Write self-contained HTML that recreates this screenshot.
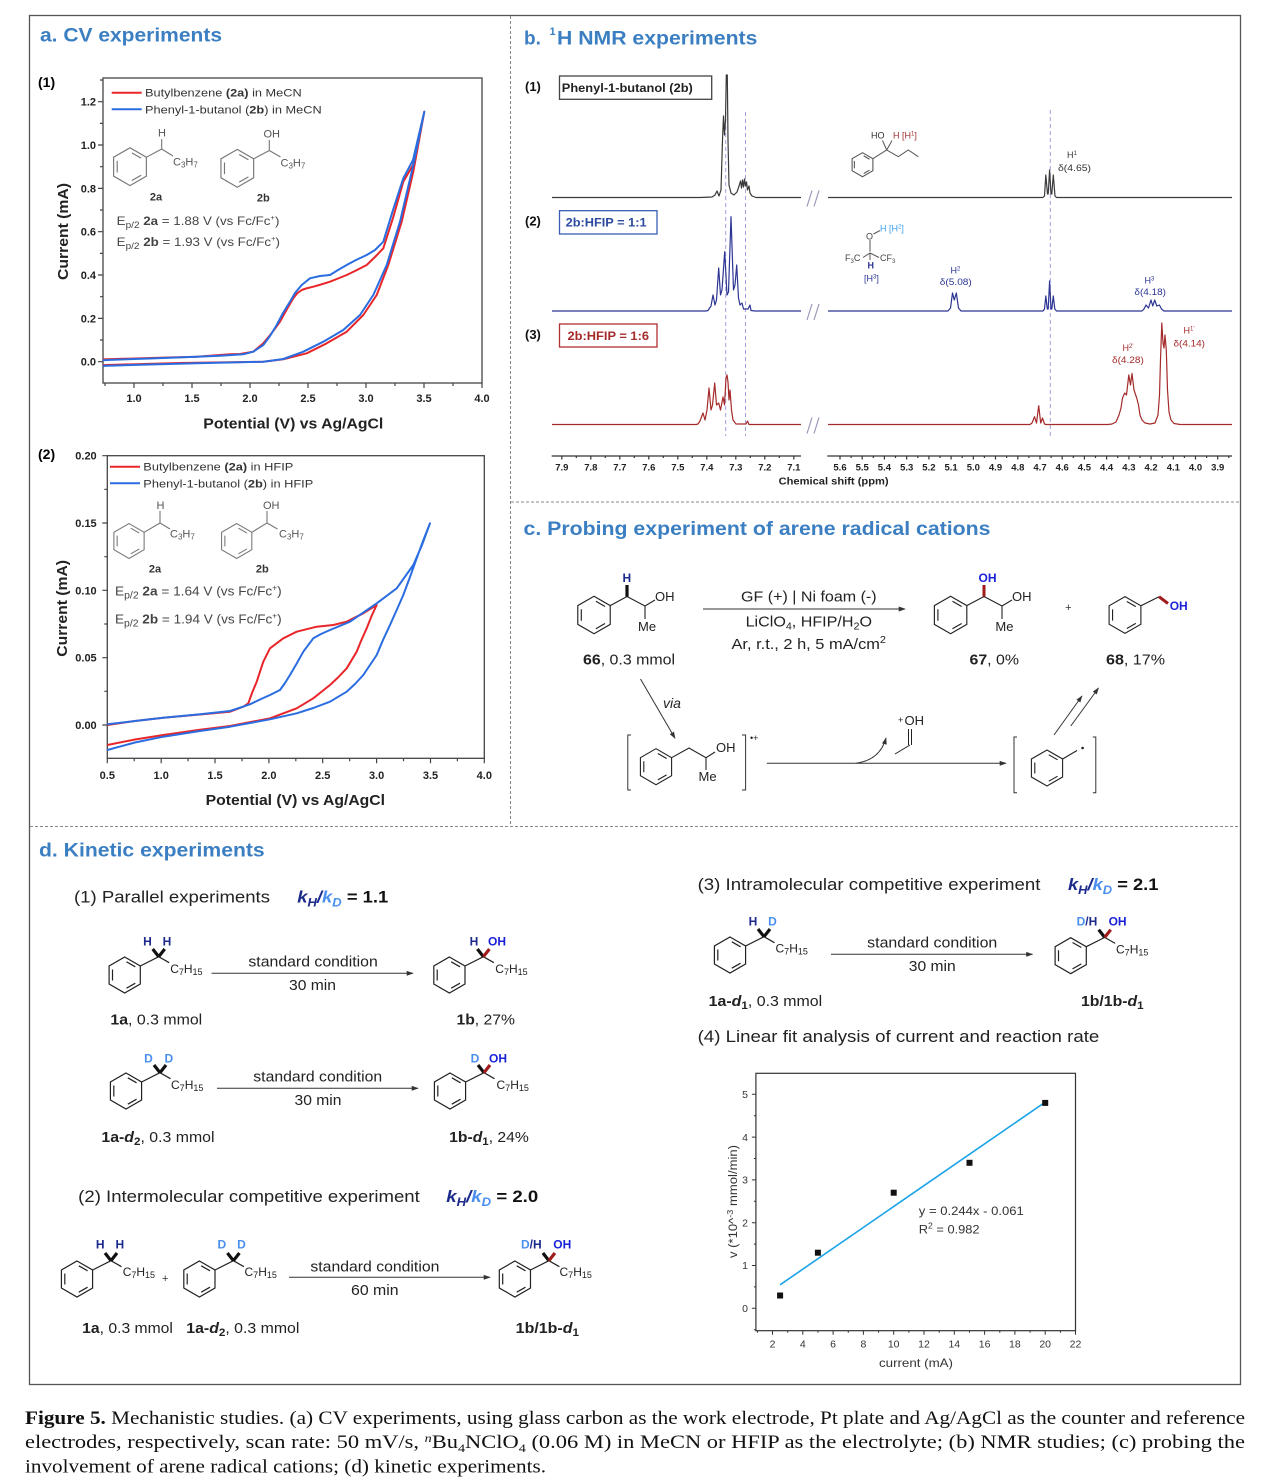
<!DOCTYPE html>
<html><head><meta charset="utf-8"><style>html,body{margin:0;padding:0;background:#fff}svg{display:block}</style></head>
<body>
<svg width="1262" height="1482" viewBox="0 0 1262 1482" xmlns="http://www.w3.org/2000/svg" font-family="'Liberation Sans', Arial, sans-serif">
<defs>
<marker id="ah" viewBox="0 0 10 10" refX="9" refY="5" markerWidth="7" markerHeight="7" orient="auto"><path d="M0,1.5 L10,5 L0,8.5 Z" fill="#333"/></marker>
<g id="bz" fill="none"><path d="M0,-18 L15.59,-9 L15.59,9 L0,18 L-15.59,9 L-15.59,-9 Z M-12.2,-5.5 L-12.2,5.5 M1.8,-13.2 L10.6,-8.2 M10.6,8.2 L1.8,13.2"/></g>
<g id="alk" fill="none"><use href="#bz"/><path d="M15.59,-9 L34,-18.3 L44.5,-12.3"/></g>
</defs>

<!-- Frame -->
<rect x="29.5" y="15.5" width="1211" height="1369" fill="none" stroke="#555" stroke-width="1.3"/>
<g stroke="#888" stroke-width="1" stroke-dasharray="3,2">
<line x1="510.5" y1="16" x2="510.5" y2="826"/>
<line x1="511" y1="502" x2="1240" y2="502"/>
<line x1="30" y1="826.5" x2="1240" y2="826.5"/>
</g>

<!-- ===== Panel a ===== -->
<text x="40" y="41.7" font-size="19" font-weight="bold" fill="#3b7fc2" textLength="182" lengthAdjust="spacingAndGlyphs">a. CV experiments</text>
<text x="38" y="87" font-size="14" font-weight="bold">(1)</text>

<!-- CV 1 -->
<rect x="103" y="78" width="379" height="305" fill="none" stroke="#444" stroke-width="1.3"/>
<path d="M134,383v5M192,383v5M250,383v5M308,383v5M366,383v5M424,383v5M482,383v5 M105,383v3M163,383v3M221,383v3M279,383v3M337,383v3M395,383v3M453,383v3 M103,361.7h-5M103,318.4h-5M103,275h-5M103,231.7h-5M103,188.4h-5M103,145h-5M103,101.7h-5 M103,340h-3M103,296.7h-3M103,253.4h-3M103,210h-3M103,166.7h-3M103,123.4h-3M103,80h-3" stroke="#444" stroke-width="1.2" fill="none"/>
<g font-size="11" font-weight="bold" fill="#222" text-anchor="middle">
<text x="134" y="402">1.0</text><text x="192" y="402">1.5</text><text x="250" y="402">2.0</text><text x="308" y="402">2.5</text><text x="366" y="402">3.0</text><text x="424" y="402">3.5</text><text x="482" y="402">4.0</text>
</g>
<g font-size="11" font-weight="bold" fill="#222" text-anchor="end">
<text x="96" y="365.7">0.0</text><text x="96" y="322.4">0.2</text><text x="96" y="279">0.4</text><text x="96" y="235.7">0.6</text><text x="96" y="192.4">0.8</text><text x="96" y="149">1.0</text><text x="96" y="105.7">1.2</text>
</g>
<text x="203.3" y="428.3" font-size="15" font-weight="bold" fill="#222" textLength="180" lengthAdjust="spacingAndGlyphs">Potential (V) vs Ag/AgCl</text>
<text transform="translate(68,280) rotate(-90)" font-size="15" font-weight="bold" fill="#222" textLength="97" lengthAdjust="spacingAndGlyphs">Current (mA)</text>
<line x1="111.7" y1="92.7" x2="141.7" y2="92.7" stroke="#e8262a" stroke-width="2"/>
<line x1="111.7" y1="109.3" x2="141.7" y2="109.3" stroke="#2a6de0" stroke-width="2"/>
<text x="145" y="96.7" font-size="11" fill="#333" textLength="156.7" lengthAdjust="spacingAndGlyphs">Butylbenzene <tspan font-weight="bold">(2a)</tspan> in MeCN</text>
<text x="145" y="113.3" font-size="11" fill="#333" textLength="176.7" lengthAdjust="spacingAndGlyphs">Phenyl-1-butanol (<tspan font-weight="bold">2b</tspan>) in MeCN</text>
<!-- structures 1 -->
<use href="#bz" transform="translate(130,166.7) scale(1.05)" stroke="#777" stroke-width="1.1"/>
<path d="M146.4,157.2 L161.7,149 L161.7,139 M161.7,149 L173,156" stroke="#777" stroke-width="1.1" fill="none"/>
<use href="#bz" transform="translate(237.3,168.3) scale(1.05)" stroke="#777" stroke-width="1.1"/>
<path d="M253.7,158.8 L269.3,150.5 L269.3,140 M269.3,150.5 L280.5,157" stroke="#777" stroke-width="1.1" fill="none"/>
<g font-size="11" fill="#555">
<text x="158" y="136.5">H</text>
<text x="173" y="165.7">C<tspan font-size="8" dy="2">3</tspan><tspan dy="-2">H</tspan><tspan font-size="8" dy="2">7</tspan></text>
<text x="263.5" y="137.5">OH</text>
<text x="280.5" y="166.5">C<tspan font-size="8" dy="2">3</tspan><tspan dy="-2">H</tspan><tspan font-size="8" dy="2">7</tspan></text>
</g>
<text x="156" y="200.7" font-size="11" font-weight="bold" fill="#333" text-anchor="middle">2a</text>
<text x="263.3" y="201.3" font-size="11" font-weight="bold" fill="#333" text-anchor="middle">2b</text>
<text x="116.7" y="225" font-size="12" fill="#444" textLength="162.7" lengthAdjust="spacingAndGlyphs">E<tspan font-size="9" dy="3">p/2</tspan><tspan dy="-3"> </tspan><tspan font-weight="bold">2a</tspan> = 1.88 V (vs Fc/Fc<tspan font-size="7" dy="-5">+</tspan><tspan dy="5">)</tspan></text>
<text x="116.7" y="246" font-size="12" fill="#444" textLength="163.3" lengthAdjust="spacingAndGlyphs">E<tspan font-size="9" dy="3">p/2</tspan><tspan dy="-3"> </tspan><tspan font-weight="bold">2b</tspan> = 1.93 V (vs Fc/Fc<tspan font-size="7" dy="-5">+</tspan><tspan dy="5">)</tspan></text>
<!-- curves 1 -->
<polyline fill="none" stroke="#e8262a" stroke-width="2" stroke-linejoin="round" points="103,365.2 106.7,365 180,363 263.3,361.7 283.3,359.3 306.7,353.3 326.7,343.3 346.7,331.7 363.3,315 376.7,295 388.3,265 401.7,221.7 413.3,171.7 424.3,111.7 413,165 403.3,181.7 393,218 383.3,248.3 375,257 366.7,265 356,270.5 346.7,275 338,278.5 330,281.7 321,284.5 313.3,286.7 306,288.5 301.7,290 297,293.5 293.3,298.3 287,309 280,321.7 271,334 263.3,343.3 253.3,351.7 240,354 230,354.3 196.7,356.7 150,358 106.7,359.3 103,359.4"/>
<polyline fill="none" stroke="#2a6de0" stroke-width="2" stroke-linejoin="round" points="103,366 106.7,365.7 150,364.5 196.7,363.3 240,362.3 263.3,361.7 283.3,359 303.3,351.7 323.3,341.7 343.3,330 360,315 373.3,295 386.7,265 400,221.7 413.3,165 424.3,111.7 413,160 403.3,178.3 393,210 383.3,241.7 375,250 366.7,255 356,260 346.7,265 338,270 330,275 320,276 310,278.3 301.7,285 295,293 290,301.7 283,313 276.7,325 270,336 263.3,345 253.3,351.7 243.3,354.3 220,355.7 196.7,356.7 150,358.5 106.7,360 103,360.2"/>

<!-- CV 2 -->
<text x="38" y="459" font-size="14" font-weight="bold">(2)</text>
<rect x="107.3" y="455.7" width="377" height="302.6" fill="none" stroke="#444" stroke-width="1.3"/>
<path d="M107.3,758.3v5M161.2,758.3v5M215,758.3v5M268.9,758.3v5M322.7,758.3v5M376.6,758.3v5M430.5,758.3v5M484.3,758.3v5 M134.2,758.3v3M188.1,758.3v3M242,758.3v3M295.8,758.3v3M349.7,758.3v3M403.5,758.3v3M457.4,758.3v3 M107.3,725h-5M107.3,657.7h-5M107.3,590.3h-5M107.3,523h-5M107.3,455.7h-5 M107.3,691.3h-3M107.3,624h-3M107.3,556.7h-3M107.3,489.3h-3" stroke="#444" stroke-width="1.2" fill="none"/>
<g font-size="11" font-weight="bold" fill="#222" text-anchor="middle">
<text x="107.3" y="779">0.5</text><text x="161.2" y="779">1.0</text><text x="215" y="779">1.5</text><text x="268.9" y="779">2.0</text><text x="322.7" y="779">2.5</text><text x="376.6" y="779">3.0</text><text x="430.5" y="779">3.5</text><text x="484.3" y="779">4.0</text>
</g>
<g font-size="11" font-weight="bold" fill="#222" text-anchor="end">
<text x="96.7" y="729">0.00</text><text x="96.7" y="661.7">0.05</text><text x="96.7" y="594.3">0.10</text><text x="96.7" y="527">0.15</text><text x="96.7" y="459.7">0.20</text>
</g>
<text x="205.7" y="805" font-size="15" font-weight="bold" fill="#222" textLength="179.3" lengthAdjust="spacingAndGlyphs">Potential (V) vs Ag/AgCl</text>
<text transform="translate(67,656.7) rotate(-90)" font-size="15" font-weight="bold" fill="#222" textLength="96.7" lengthAdjust="spacingAndGlyphs">Current (mA)</text>
<line x1="110" y1="466.7" x2="140" y2="466.7" stroke="#e8262a" stroke-width="2"/>
<line x1="110" y1="483.3" x2="140" y2="483.3" stroke="#2a6de0" stroke-width="2"/>
<text x="143.3" y="470.7" font-size="11" fill="#333" textLength="150" lengthAdjust="spacingAndGlyphs">Butylbenzene <tspan font-weight="bold">(2a)</tspan> in HFIP</text>
<text x="143.3" y="487.3" font-size="11" fill="#333" textLength="170" lengthAdjust="spacingAndGlyphs">Phenyl-1-butanol (<tspan font-weight="bold">2b</tspan>) in HFIP</text>
<use href="#bz" transform="translate(129,541) scale(0.97)" stroke="#777" stroke-width="1.1"/>
<path d="M144.1,532.3 L160,523 L160,511 M160,523 L170,529" stroke="#777" stroke-width="1.1" fill="none"/>
<use href="#bz" transform="translate(236.7,541) scale(0.97)" stroke="#777" stroke-width="1.1"/>
<path d="M251.8,532.3 L267,523 L267,511 M267,523 L277.5,529" stroke="#777" stroke-width="1.1" fill="none"/>
<g font-size="11" fill="#555">
<text x="156.5" y="509">H</text>
<text x="170" y="537.5">C<tspan font-size="8" dy="2">3</tspan><tspan dy="-2">H</tspan><tspan font-size="8" dy="2">7</tspan></text>
<text x="263" y="509">OH</text>
<text x="279" y="537.5">C<tspan font-size="8" dy="2">3</tspan><tspan dy="-2">H</tspan><tspan font-size="8" dy="2">7</tspan></text>
</g>
<text x="155" y="572.5" font-size="11" font-weight="bold" fill="#333" text-anchor="middle">2a</text>
<text x="262.3" y="572.5" font-size="11" font-weight="bold" fill="#333" text-anchor="middle">2b</text>
<text x="115" y="595.5" font-size="13" fill="#444" textLength="166.7" lengthAdjust="spacingAndGlyphs">E<tspan font-size="10" dy="3">p/2</tspan><tspan dy="-3"> </tspan><tspan font-weight="bold">2a</tspan> = 1.64 V (vs Fc/Fc<tspan font-size="8" dy="-5">+</tspan><tspan dy="5">)</tspan></text>
<text x="115" y="623.5" font-size="13" fill="#444" textLength="166.7" lengthAdjust="spacingAndGlyphs">E<tspan font-size="10" dy="3">p/2</tspan><tspan dy="-3"> </tspan><tspan font-weight="bold">2b</tspan> = 1.94 V (vs Fc/Fc<tspan font-size="8" dy="-5">+</tspan><tspan dy="5">)</tspan></text>
<polyline fill="none" stroke="#e8262a" stroke-width="2" stroke-linejoin="round" points="107.3,725 135,721 163.3,717.7 200,714.5 230,711.7 243.3,706.7 248.3,703.3 252,693 256.7,681.7 263.3,661.7 270,648.3 283.3,638.3 296.7,631.7 316.7,626.7 333.3,625 346.7,621.7 363.3,613.3 376.7,605 372,615 366.7,628.3 361,641 356.7,651.7 346.7,668.3 338,677.5 330,685 313.3,698.3 296.7,708.3 270,718.3 230,726 200,729.8 163.3,735 135,739.5 107.3,745"/>
<polyline fill="none" stroke="#2a6de0" stroke-width="2" stroke-linejoin="round" points="107.3,724.3 135,721 163.3,717.7 200,714.3 230,711 250,704.3 260,699.5 270,695 280,690 285,683 290,675 297,663 303.3,651.7 313.3,638.3 321,634 330,630 350,621.7 376.7,603.3 396.7,588.3 413.3,565 422,545 430,523.3 423,541 416.7,558.3 410,577 403.3,595 396.7,610 390,625 383,640 376.7,655 370,665 363.3,675 355,684 346.7,691.7 330,701.7 313.3,708 296.7,713.3 270,719.3 230,726.7 200,731 163.3,736.7 135,742.5 107.3,750"/>

<!-- ===== Panel b NMR ===== -->
<text x="524" y="44.3" font-size="19" font-weight="bold" fill="#3b7fc2">b.</text>
<text x="549.5" y="35" font-size="11" font-weight="bold" fill="#3b7fc2">1</text>
<text x="557" y="44.3" font-size="19" font-weight="bold" fill="#3b7fc2" textLength="200.4" lengthAdjust="spacingAndGlyphs">H NMR experiments</text>
<g font-size="13" font-weight="bold" fill="#111">
<text x="525" y="91">(1)</text><text x="525" y="225.5">(2)</text><text x="525" y="339">(3)</text>
</g>
<rect x="559.5" y="76" width="152.2" height="23.3" fill="#fff" stroke="#444" stroke-width="1.3"/>
<text x="561.8" y="92" font-size="12" font-weight="bold" fill="#222" textLength="131" lengthAdjust="spacingAndGlyphs">Phenyl-1-butanol (2b)</text>
<rect x="559.5" y="210.7" width="97.5" height="23.3" fill="#fff" stroke="#3a5cb5" stroke-width="1.3"/>
<text x="565.6" y="226.5" font-size="12" font-weight="bold" fill="#2c4aa0" textLength="81" lengthAdjust="spacingAndGlyphs">2b:HFIP = 1:1</text>
<rect x="559.5" y="324" width="97.5" height="23" fill="#fff" stroke="#b03030" stroke-width="1.3"/>
<text x="567.5" y="340" font-size="12" font-weight="bold" fill="#a52a2a" textLength="81.5" lengthAdjust="spacingAndGlyphs">2b:HFIP = 1:6</text>
<!-- dashed guide lines -->
<g stroke="#a0a0e0" stroke-width="1" stroke-dasharray="4,3">
<line x1="725.7" y1="112" x2="725.7" y2="436"/>
<line x1="745.5" y1="112" x2="745.5" y2="436"/>
<line x1="1050.3" y1="110" x2="1050.3" y2="436"/>
</g>
<!-- spectra -->
<g fill="none" stroke-width="1.2" stroke-linejoin="round">
<polyline stroke="#3a3a3a" points="552,197.5 700,197.5 712,197 715,195 717,191 719,196 721,190 722.5,140 723.5,116 724.5,135 725.5,120 726.3,75 727.3,75 728,140 729,185 731,193 734,195 737,192 739,186 740.5,181 741.5,188 742.5,180 743.5,187 744.5,179 745.5,186 746.5,182 747.5,190 749,186 750,193 752,196 756,197.5 801,197.5"/>
<polyline stroke="#3a3a3a" points="828,197.5 1043,197.5 1044.5,196 1045.8,175 1047.5,194 1048.2,194 1049.6,170 1051,194 1051.8,194 1053.3,175 1055,196 1056.5,197.5 1232,197.5"/>
<polyline stroke="#2c3593" points="552,311 706,311 708,310.5 711,306 713,295 715,305 716.5,300 718.7,268 720.5,295 722,290 724.7,251.7 727,295 728.5,292 731,216.7 733.5,290 735,285 736.7,265 738.5,298 740,305 742,303 743.5,309 748,309 750,305 751,310.5 755,311 801,311"/>
<polyline stroke="#2c3593" points="828,311 948,311 950.5,308 952.5,293 954.3,300 956.3,293 958.5,308 961,311 1043,311 1044.5,309 1045.8,296 1047.3,309 1048.2,309 1049.6,281 1051,309 1051.8,309 1053.3,296 1054.8,309 1056.5,311 1142,311 1144,309 1146,305 1148.5,308 1151,300 1152.8,306 1154.7,300 1156.8,306 1159.4,305 1161.5,309 1164,311 1232,311"/>
<polyline stroke="#a52a2a" points="552,424.5 696,424.5 698,424 700,421 703,413 705,420 707,410 709,388 711,410 712.5,405 714.7,383 716.5,405 718.7,403 720.5,410 723,397 724.5,405 726,378 727,375 728,382 729,400 730,390 731.5,410 733,420 736,424 746,424 747.5,421 749,424.5 801,424.5"/>
<polyline stroke="#a52a2a" points="828,424.5 1030,424.5 1032,423 1034.5,416.7 1036.5,423 1038.7,405.7 1040.7,423 1042.5,418 1044.5,424 1046,424.5 1108,424.5 1112,424 1116,422 1119,415 1121,408 1122.5,398 1124.7,393 1126.5,395 1128.8,375 1130.5,385 1132,373.5 1134,390 1136.7,398 1138.5,405 1140,415 1142,420 1145,423 1150,424 1155,423 1158,415 1159.5,395 1160.5,360 1161.8,323 1163,343 1164,348 1165,335 1166.3,350 1167.5,390 1169,412 1171,420 1174,423.5 1180,424.5 1232,424.5"/>
</g>
<!-- break marks -->
<g stroke="#9a9ab8" stroke-width="1.2">
<path d="M807,206.5 L812,190.5 M814,206.5 L819,190.5"/>
<path d="M807,320 L812,304 M814,320 L819,304"/>
<path d="M807,433.5 L812,417.5 M814,433.5 L819,417.5"/>
</g>
<!-- NMR axis -->
<g stroke="#333" stroke-width="1.2" fill="none">
<path d="M551.7,456 H801 M827.3,456 H1232"/>
<path d="M561.8,456v3.5M590.8,456v3.5M619.8,456v3.5M648.8,456v3.5M677.8,456v3.5M706.8,456v3.5M735.8,456v3.5M764.8,456v3.5M793.8,456v3.5 M576.3,456v2M605.3,456v2M634.3,456v2M663.3,456v2M692.3,456v2M721.3,456v2M750.3,456v2M779.3,456v2"/>
<path d="M840,456v3.5M862.2,456v3.5M884.4,456v3.5M906.7,456v3.5M928.9,456v3.5M951.1,456v3.5M973.3,456v3.5M995.5,456v3.5M1017.8,456v3.5M1040,456v3.5M1062.2,456v3.5M1084.4,456v3.5M1106.6,456v3.5M1128.9,456v3.5M1151.1,456v3.5M1173.3,456v3.5M1195.5,456v3.5M1217.7,456v3.5 M851.1,456v2M873.3,456v2M895.5,456v2M917.8,456v2M940,456v2M962.2,456v2M984.4,456v2M1006.6,456v2M1028.9,456v2M1051.1,456v2M1073.3,456v2M1095.5,456v2M1117.7,456v2M1140,456v2M1162.2,456v2M1184.4,456v2M1206.6,456v2M1228.8,456v2"/>
</g>
<g font-size="9.5" font-weight="bold" fill="#222" text-anchor="middle">
<text x="561.8" y="470.5">7.9</text><text x="590.8" y="470.5">7.8</text><text x="619.8" y="470.5">7.7</text><text x="648.8" y="470.5">7.6</text><text x="677.8" y="470.5">7.5</text><text x="706.8" y="470.5">7.4</text><text x="735.8" y="470.5">7.3</text><text x="764.8" y="470.5">7.2</text><text x="793.8" y="470.5">7.1</text>
<text x="840" y="470.5">5.6</text><text x="862.2" y="470.5">5.5</text><text x="884.4" y="470.5">5.4</text><text x="906.7" y="470.5">5.3</text><text x="928.9" y="470.5">5.2</text><text x="951.1" y="470.5">5.1</text><text x="973.3" y="470.5">5.0</text><text x="995.5" y="470.5">4.9</text><text x="1017.8" y="470.5">4.8</text><text x="1040" y="470.5">4.7</text><text x="1062.2" y="470.5">4.6</text><text x="1084.4" y="470.5">4.5</text><text x="1106.6" y="470.5">4.4</text><text x="1128.9" y="470.5">4.3</text><text x="1151.1" y="470.5">4.2</text><text x="1173.3" y="470.5">4.1</text><text x="1195.5" y="470.5">4.0</text><text x="1217.7" y="470.5">3.9</text>
</g>
<text x="778.6" y="484.5" font-size="10" font-weight="bold" fill="#222" textLength="110" lengthAdjust="spacingAndGlyphs">Chemical shift (ppm)</text>
<!-- NMR structures -->
<use href="#bz" transform="translate(862.5,164.7) scale(0.667)" stroke="#555" stroke-width="1.6"/>
<path d="M872.9,158.7 L886.7,150 L898.3,156.7 L908.3,150 L918.3,156.7 M886.7,150 L882.5,140.5 M886.7,150 L892,140.5" stroke="#555" stroke-width="1" fill="none"/>
<text x="871" y="138.5" font-size="9" fill="#333">HO</text>
<text x="893" y="138.5" font-size="9" fill="#a03030">H [H<tspan font-size="6" dy="-3">1</tspan><tspan dy="3">]</tspan></text>
<text x="1067" y="158" font-size="9" fill="#333">H<tspan font-size="6" dy="-3">1</tspan></text>
<text x="1058" y="171" font-size="9" fill="#333" textLength="33" lengthAdjust="spacingAndGlyphs">δ(4.65)</text>
<!-- HFIP -->
<path d="M870,240 L870,251.7 M873.5,234 L880,230.5 M870,253 L863,257.5 M870,253 L879,257.5 M870,253 L870,260" stroke="#555" stroke-width="1" fill="none"/>
<text x="866" y="239.5" font-size="9" fill="#444">O</text>
<text x="880" y="231.5" font-size="9" fill="#3aa0f0">H [H<tspan font-size="6" dy="-3">2</tspan><tspan dy="3">]</tspan></text>
<text x="845" y="261" font-size="9" fill="#444">F<tspan font-size="6" dy="2">3</tspan><tspan dy="-2">C</tspan></text>
<text x="880" y="261" font-size="9" fill="#444">CF<tspan font-size="6" dy="2">3</tspan></text>
<text x="867.5" y="268.5" font-size="9" font-weight="bold" fill="#2c3593">H</text>
<text x="864" y="281.5" font-size="9" fill="#2c3593">[H<tspan font-size="6" dy="-3">3</tspan><tspan dy="3">]</tspan></text>
<text x="950.5" y="273.5" font-size="9" fill="#2c3593">H<tspan font-size="6" dy="-3">2</tspan></text>
<text x="939.8" y="285" font-size="9" fill="#2c3593" textLength="32" lengthAdjust="spacingAndGlyphs">δ(5.08)</text>
<text x="1144.5" y="283.5" font-size="9" fill="#2c3593">H<tspan font-size="6" dy="-3">3</tspan></text>
<text x="1134.4" y="295" font-size="9" fill="#2c3593" textLength="31.6" lengthAdjust="spacingAndGlyphs">δ(4.18)</text>
<text x="1122.5" y="351" font-size="9" fill="#a52a2a">H<tspan font-size="6" dy="-3">2'</tspan></text>
<text x="1112" y="363" font-size="9" fill="#a52a2a" textLength="31.8" lengthAdjust="spacingAndGlyphs">δ(4.28)</text>
<text x="1183.5" y="333.5" font-size="9" fill="#a52a2a">H<tspan font-size="6" dy="-3">1'</tspan></text>
<text x="1173.5" y="346.5" font-size="9" fill="#a52a2a" textLength="31.5" lengthAdjust="spacingAndGlyphs">δ(4.14)</text>

<!-- ===== Panel c ===== -->
<text x="523.5" y="535" font-size="19" font-weight="bold" fill="#3b7fc2" textLength="467" lengthAdjust="spacingAndGlyphs">c. Probing experiment of arene radical cations</text>
<!-- 66 -->
<use href="#bz" transform="translate(594,615) scale(1.04)" stroke="#222" stroke-width="1.1"/>
<path d="M610.2,605.6 L627,596.5 L645,606 L655,600 M645,606 L645,619" stroke="#222" stroke-width="1.1" fill="none"/>
<line x1="627" y1="596.5" x2="627" y2="585" stroke="#111" stroke-width="3.2"/>
<text x="622.5" y="582" font-size="12" font-weight="bold" fill="#1c2a8c">H</text>
<text x="655" y="601" font-size="13" fill="#222">OH</text>
<text x="638" y="631" font-size="13" fill="#222">Me</text>
<text x="583" y="664.5" font-size="15" fill="#222" textLength="92" lengthAdjust="spacingAndGlyphs"><tspan font-weight="bold">66</tspan>, 0.3 mmol</text>
<line x1="703" y1="609" x2="905" y2="609" stroke="#333" stroke-width="1" marker-end="url(#ah)"/>
<text x="741" y="601.5" font-size="15" fill="#222" textLength="135.6" lengthAdjust="spacingAndGlyphs">GF (+) | Ni foam (-)</text>
<text x="745.6" y="626.5" font-size="15" fill="#222" textLength="126.4" lengthAdjust="spacingAndGlyphs">LiClO<tspan font-size="10" dy="3">4</tspan><tspan dy="-3">, HFIP/H</tspan><tspan font-size="10" dy="3">2</tspan><tspan dy="-3">O</tspan></text>
<text x="731.5" y="649" font-size="15" fill="#222" textLength="154.5" lengthAdjust="spacingAndGlyphs">Ar, r.t., 2 h, 5 mA/cm<tspan font-size="10" dy="-6">2</tspan></text>
<!-- 67 -->
<use href="#bz" transform="translate(950.6,615) scale(1.04)" stroke="#222" stroke-width="1.1"/>
<path d="M966.8,605.6 L984,596.5 L1002,606 L1012,600 M1002,606 L1002,619" stroke="#222" stroke-width="1.1" fill="none"/>
<line x1="984" y1="596.5" x2="984" y2="585" stroke="#a01c1c" stroke-width="3"/>
<text x="978.5" y="582" font-size="12" font-weight="bold" fill="#1a22d8">OH</text>
<text x="1012" y="601" font-size="13" fill="#222">OH</text>
<text x="995.4" y="631" font-size="13" fill="#222">Me</text>
<text x="969.5" y="664.5" font-size="15" fill="#222" textLength="49.5" lengthAdjust="spacingAndGlyphs"><tspan font-weight="bold">67</tspan>, 0%</text>
<text x="1068.4" y="611" font-size="11" fill="#333" text-anchor="middle">+</text>
<!-- 68 -->
<use href="#bz" transform="translate(1125,615) scale(1.02)" stroke="#222" stroke-width="1.1"/>
<path d="M1140.9,605.8 L1159,596.7" stroke="#222" stroke-width="1.1" fill="none"/>
<line x1="1159" y1="596.7" x2="1168" y2="603.5" stroke="#a01c1c" stroke-width="3"/>
<text x="1169.7" y="610" font-size="12" font-weight="bold" fill="#1a22d8">OH</text>
<text x="1106" y="664.5" font-size="15" fill="#222" textLength="59" lengthAdjust="spacingAndGlyphs"><tspan font-weight="bold">68</tspan>, 17%</text>
<!-- via -->
<line x1="640.5" y1="679" x2="675" y2="738.3" stroke="#333" stroke-width="1" marker-end="url(#ah)"/>
<text x="663" y="708" font-size="14" font-style="italic" fill="#222">via</text>
<!-- radical cation bracket -->
<path d="M631,735 L627.8,735 L627.8,790 L631,790 M742,735 L745.6,735 L745.6,790 L742,790" stroke="#333" stroke-width="1" fill="none"/>
<use href="#bz" transform="translate(656,766.7)" stroke="#222" stroke-width="1.1"/>
<path d="M671.6,757.7 L689,748 L706,757.7 L715,752 M706,757.7 L706,770" stroke="#222" stroke-width="1.1" fill="none"/>
<text x="716" y="752" font-size="13" fill="#222">OH</text>
<text x="698.5" y="781" font-size="13" fill="#222">Me</text>
<text x="750" y="741" font-size="9" fill="#222">•+</text>
<line x1="766.8" y1="763.3" x2="1006" y2="763.3" stroke="#333" stroke-width="1" marker-end="url(#ah)"/>
<path d="M856,763.3 Q880,760 886,738" stroke="#333" stroke-width="1" fill="none" marker-end="url(#ah)"/>
<text x="898" y="723" font-size="9" fill="#222">+</text>
<text x="904.5" y="725" font-size="13" fill="#222">OH</text>
<path d="M908.5,729 L908.5,745 M911.5,729 L911.5,745 M910,745 L895,754" stroke="#222" stroke-width="1" fill="none"/>
<path d="M1017,737 L1014,737 L1014,792.7 L1017,792.7 M1092.8,737 L1095.8,737 L1095.8,792.7 L1092.8,792.7" stroke="#333" stroke-width="1" fill="none"/>
<use href="#bz" transform="translate(1047,768)" stroke="#222" stroke-width="1.1"/>
<path d="M1062.6,759 L1077,750.5" stroke="#222" stroke-width="1.1"/>
<circle cx="1082.6" cy="748" r="1.3" fill="#222"/>
<line x1="1054" y1="735" x2="1082" y2="696" stroke="#333" stroke-width="1" marker-end="url(#ah)"/>
<line x1="1070.8" y1="726" x2="1098.5" y2="688" stroke="#333" stroke-width="1" marker-end="url(#ah)"/>

<!-- ===== Panel d ===== -->
<text x="39" y="856.7" font-size="19" font-weight="bold" fill="#3b7fc2" textLength="225.7" lengthAdjust="spacingAndGlyphs">d. Kinetic experiments</text>
<text x="74" y="902.3" font-size="17" fill="#222" textLength="196" lengthAdjust="spacingAndGlyphs">(1) Parallel experiments</text>
<text x="297.3" y="902.3" font-size="17" font-weight="bold" font-style="italic" fill="#1c2a8c" textLength="91" lengthAdjust="spacingAndGlyphs">k<tspan font-size="12" dy="4">H</tspan><tspan dy="-4">/</tspan><tspan fill="#4a8ff0">k</tspan><tspan fill="#4a8ff0" font-size="12" dy="4">D</tspan><tspan dy="-4" fill="#111" font-style="normal"> = 1.1</tspan></text>
<text x="78.2" y="1202" font-size="17" fill="#222" textLength="341.6" lengthAdjust="spacingAndGlyphs">(2) Intermolecular competitive experiment</text>
<text x="446.3" y="1202" font-size="17" font-weight="bold" font-style="italic" fill="#1c2a8c" textLength="91.9" lengthAdjust="spacingAndGlyphs">k<tspan font-size="12" dy="4">H</tspan><tspan dy="-4">/</tspan><tspan fill="#4a8ff0">k</tspan><tspan fill="#4a8ff0" font-size="12" dy="4">D</tspan><tspan dy="-4" fill="#111" font-style="normal"> = 2.0</tspan></text>
<text x="697.6" y="890" font-size="17" fill="#222" textLength="342.8" lengthAdjust="spacingAndGlyphs">(3) Intramolecular competitive experiment</text>
<text x="1068" y="890" font-size="17" font-weight="bold" font-style="italic" fill="#1c2a8c" textLength="90.4" lengthAdjust="spacingAndGlyphs">k<tspan font-size="12" dy="4">H</tspan><tspan dy="-4">/</tspan><tspan fill="#4a8ff0">k</tspan><tspan fill="#4a8ff0" font-size="12" dy="4">D</tspan><tspan dy="-4" fill="#111" font-style="normal"> = 2.1</tspan></text>
<text x="697.6" y="1042" font-size="17" fill="#222" textLength="401.7" lengthAdjust="spacingAndGlyphs">(4) Linear fit analysis of current and reaction rate</text>

<!-- molecules -->
<g stroke="#222" stroke-width="1.2">
<use href="#alk" x="124.7" y="975"/>
<use href="#alk" x="449.4" y="975"/>
<use href="#alk" x="126" y="1091"/>
<use href="#alk" x="450" y="1091"/>
<use href="#alk" x="77" y="1279"/>
<use href="#alk" x="199.4" y="1279"/>
<use href="#alk" x="514.9" y="1279"/>
<use href="#alk" x="730" y="955"/>
<use href="#alk" x="1070.7" y="955.7"/>
</g>
<g stroke-width="3.2" stroke-linecap="butt">
<path d="M158.7,956.7 L152.7,949 M158.7,956.7 L164.7,949" stroke="#111"/>
<path d="M483.4,956.7 L477.4,949" stroke="#111"/><path d="M483.4,956.7 L489.4,949" stroke="#a01c1c"/>
<path d="M160,1072.7 L154,1065 M160,1072.7 L166,1065" stroke="#111"/>
<path d="M484,1072.7 L478,1065" stroke="#111"/><path d="M484,1072.7 L490,1065" stroke="#a01c1c"/>
<path d="M111,1260.7 L105,1253 M111,1260.7 L117,1253" stroke="#111"/>
<path d="M233.4,1260.7 L227.4,1253 M233.4,1260.7 L239.4,1253" stroke="#111"/>
<path d="M548.9,1260.7 L542.9,1253" stroke="#111"/><path d="M548.9,1260.7 L554.9,1253" stroke="#a01c1c"/>
<path d="M764,936.7 L758,929 M764,936.7 L770,929" stroke="#111"/>
<path d="M1104.7,937.4 L1098.7,929.7" stroke="#111"/><path d="M1104.7,937.4 L1110.7,929.7" stroke="#a01c1c"/>
</g>
<g font-size="12" font-weight="bold">
<text x="147.5" y="945.5" fill="#1c2a8c" text-anchor="middle">H</text><text x="167" y="945.5" fill="#1c2a8c" text-anchor="middle">H</text>
<text x="474" y="945.5" fill="#1c2a8c" text-anchor="middle">H</text><text x="488" y="945.5" fill="#1a22d8">OH</text>
<text x="148.4" y="1062.5" fill="#4a8ff0" text-anchor="middle">D</text><text x="168.8" y="1062.5" fill="#4a8ff0" text-anchor="middle">D</text>
<text x="474.9" y="1062.5" fill="#4a8ff0" text-anchor="middle">D</text><text x="489" y="1062.5" fill="#1a22d8">OH</text>
<text x="100.2" y="1248.5" fill="#1c2a8c" text-anchor="middle">H</text><text x="119.8" y="1248.5" fill="#1c2a8c" text-anchor="middle">H</text>
<text x="221.8" y="1248.5" fill="#4a8ff0" text-anchor="middle">D</text><text x="241.4" y="1248.5" fill="#4a8ff0" text-anchor="middle">D</text>
<text x="521" y="1248.5" fill="#4a8ff0">D<tspan fill="#1c2a8c">/H</tspan></text><text x="553.3" y="1248.5" fill="#1a22d8">OH</text>
<text x="753" y="925.5" fill="#1c2a8c" text-anchor="middle">H</text><text x="772.5" y="925.5" fill="#4a8ff0" text-anchor="middle">D</text>
<text x="1076.6" y="925.5" fill="#4a8ff0">D<tspan fill="#1c2a8c">/H</tspan></text><text x="1108.6" y="925.5" fill="#1a22d8">OH</text>
</g>
<g font-size="12" fill="#222">
<text x="170.2" y="973">C<tspan font-size="9" dy="2">7</tspan><tspan dy="-2">H</tspan><tspan font-size="9" dy="2">15</tspan></text>
<text x="495.3" y="973">C<tspan font-size="9" dy="2">7</tspan><tspan dy="-2">H</tspan><tspan font-size="9" dy="2">15</tspan></text>
<text x="171" y="1089">C<tspan font-size="9" dy="2">7</tspan><tspan dy="-2">H</tspan><tspan font-size="9" dy="2">15</tspan></text>
<text x="496.5" y="1089">C<tspan font-size="9" dy="2">7</tspan><tspan dy="-2">H</tspan><tspan font-size="9" dy="2">15</tspan></text>
<text x="122.7" y="1276">C<tspan font-size="9" dy="2">7</tspan><tspan dy="-2">H</tspan><tspan font-size="9" dy="2">15</tspan></text>
<text x="244.5" y="1276">C<tspan font-size="9" dy="2">7</tspan><tspan dy="-2">H</tspan><tspan font-size="9" dy="2">15</tspan></text>
<text x="559.5" y="1276">C<tspan font-size="9" dy="2">7</tspan><tspan dy="-2">H</tspan><tspan font-size="9" dy="2">15</tspan></text>
<text x="775.5" y="952.5">C<tspan font-size="9" dy="2">7</tspan><tspan dy="-2">H</tspan><tspan font-size="9" dy="2">15</tspan></text>
<text x="1116" y="953.5">C<tspan font-size="9" dy="2">7</tspan><tspan dy="-2">H</tspan><tspan font-size="9" dy="2">15</tspan></text>
</g>
<text x="162" y="1282" font-size="11" fill="#333">+</text>
<!-- arrows & conditions -->
<g stroke="#333" stroke-width="1">
<line x1="211.6" y1="973.3" x2="413" y2="973.3" marker-end="url(#ah)"/>
<line x1="217" y1="1088.3" x2="418" y2="1088.3" marker-end="url(#ah)"/>
<line x1="289" y1="1277.3" x2="490" y2="1277.3" marker-end="url(#ah)"/>
<line x1="831" y1="954.3" x2="1032.5" y2="954.3" marker-end="url(#ah)"/>
</g>
<g font-size="15" fill="#222">
<text x="248.4" y="966.7" textLength="129.4" lengthAdjust="spacingAndGlyphs">standard condition</text>
<text x="289" y="990" textLength="47" lengthAdjust="spacingAndGlyphs">30 min</text>
<text x="253.3" y="1081.7" textLength="128.9" lengthAdjust="spacingAndGlyphs">standard condition</text>
<text x="294.5" y="1105" textLength="46.9" lengthAdjust="spacingAndGlyphs">30 min</text>
<text x="310.4" y="1271.5" textLength="129" lengthAdjust="spacingAndGlyphs">standard condition</text>
<text x="351" y="1295" textLength="47.6" lengthAdjust="spacingAndGlyphs">60 min</text>
<text x="867.2" y="947.3" textLength="130.1" lengthAdjust="spacingAndGlyphs">standard condition</text>
<text x="908.8" y="971" textLength="46.9" lengthAdjust="spacingAndGlyphs">30 min</text>
</g>
<g font-size="15" fill="#222">
<text x="110.4" y="1024.5" textLength="91.8" lengthAdjust="spacingAndGlyphs"><tspan font-weight="bold">1a</tspan>, 0.3 mmol</text>
<text x="456.5" y="1024.5" textLength="58.4" lengthAdjust="spacingAndGlyphs"><tspan font-weight="bold">1b</tspan>, 27%</text>
<text x="101.4" y="1142" textLength="113.1" lengthAdjust="spacingAndGlyphs"><tspan font-weight="bold">1a-<tspan font-style="italic">d</tspan></tspan><tspan font-weight="bold" font-size="11" dy="3">2</tspan><tspan dy="-3">, 0.3 mmol</tspan></text>
<text x="449.2" y="1142" textLength="79.6" lengthAdjust="spacingAndGlyphs"><tspan font-weight="bold">1b-<tspan font-style="italic">d</tspan></tspan><tspan font-weight="bold" font-size="11" dy="3">1</tspan><tspan dy="-3">, 24%</tspan></text>
<text x="82.2" y="1333" textLength="90.7" lengthAdjust="spacingAndGlyphs"><tspan font-weight="bold">1a</tspan>, 0.3 mmol</text>
<text x="186.3" y="1333" textLength="113.1" lengthAdjust="spacingAndGlyphs"><tspan font-weight="bold">1a-<tspan font-style="italic">d</tspan></tspan><tspan font-weight="bold" font-size="11" dy="3">2</tspan><tspan dy="-3">, 0.3 mmol</tspan></text>
<text x="515.7" y="1333" textLength="63.3" lengthAdjust="spacingAndGlyphs" font-weight="bold">1b/1b-<tspan font-style="italic">d</tspan><tspan font-size="11" dy="3">1</tspan></text>
<text x="708.7" y="1006" textLength="113.5" lengthAdjust="spacingAndGlyphs"><tspan font-weight="bold">1a-<tspan font-style="italic">d</tspan></tspan><tspan font-weight="bold" font-size="11" dy="3">1</tspan><tspan dy="-3">, 0.3 mmol</tspan></text>
<text x="1081" y="1006" textLength="62.6" lengthAdjust="spacingAndGlyphs" font-weight="bold">1b/1b-<tspan font-style="italic">d</tspan><tspan font-size="11" dy="3">1</tspan></text>
</g>

<!-- linear fit plot -->
<rect x="755.9" y="1073.3" width="319.6" height="257.4" fill="none" stroke="#333" stroke-width="1.2"/>
<path d="M755.9,1308.3h-4M755.9,1265.5h-4M755.9,1222.7h-4M755.9,1179.9h-4M755.9,1137.1h-4M755.9,1094.3h-4 M755.9,1329.7h-2M755.9,1286.9h-2M755.9,1244.1h-2M755.9,1201.3h-2M755.9,1158.5h-2M755.9,1115.7h-2 M772.5,1330.7v4M802.8,1330.7v4M833.1,1330.7v4M863.4,1330.7v4M893.7,1330.7v4M924,1330.7v4M954.3,1330.7v4M984.6,1330.7v4M1014.9,1330.7v4M1045.2,1330.7v4M1075.5,1330.7v4 M757.4,1330.7v2M787.7,1330.7v2M818,1330.7v2M848.3,1330.7v2M878.6,1330.7v2M908.9,1330.7v2M939.2,1330.7v2M969.5,1330.7v2M999.8,1330.7v2M1030.1,1330.7v2M1060.4,1330.7v2" stroke="#333" stroke-width="1" fill="none"/>
<g font-size="10.5" fill="#333" text-anchor="middle">
<text x="772.5" y="1347.5">2</text><text x="802.8" y="1347.5">4</text><text x="833.1" y="1347.5">6</text><text x="863.4" y="1347.5">8</text><text x="893.7" y="1347.5">10</text><text x="924" y="1347.5">12</text><text x="954.3" y="1347.5">14</text><text x="984.6" y="1347.5">16</text><text x="1014.9" y="1347.5">18</text><text x="1045.2" y="1347.5">20</text><text x="1075.5" y="1347.5">22</text>
</g>
<g font-size="10.5" fill="#333" text-anchor="end">
<text x="748" y="1312">0</text><text x="748" y="1269.2">1</text><text x="748" y="1226.4">2</text><text x="748" y="1183.6">3</text><text x="748" y="1140.8">4</text><text x="748" y="1098">5</text>
</g>
<text x="879" y="1367" font-size="12" fill="#333" textLength="74" lengthAdjust="spacingAndGlyphs">current (mA)</text>
<text transform="translate(737,1258) rotate(-90)" font-size="11.5" fill="#333" textLength="113" lengthAdjust="spacingAndGlyphs">v (*10^<tspan font-size="8" dy="-4">-3</tspan><tspan dy="4"> mmol/min)</tspan></text>
<line x1="780.1" y1="1284.8" x2="1045.2" y2="1102.1" stroke="#1aa3e8" stroke-width="1.6"/>
<g fill="#111">
<rect x="777.1" y="1292.5" width="6" height="6"/>
<rect x="814.9" y="1249.7" width="6" height="6"/>
<rect x="890.7" y="1189.7" width="6" height="6"/>
<rect x="966.5" y="1159.8" width="6" height="6"/>
<rect x="1042.2" y="1099.9" width="6" height="6"/>
</g>
<text x="918.8" y="1215" font-size="12" fill="#333" textLength="105" lengthAdjust="spacingAndGlyphs">y = 0.244x - 0.061</text>
<text x="918.8" y="1233.5" font-size="12" fill="#333" textLength="60.8" lengthAdjust="spacingAndGlyphs">R<tspan font-size="8" dy="-5">2</tspan><tspan dy="5"> = 0.982</tspan></text>

<!-- ===== Caption ===== -->
<g font-family="'Liberation Serif', 'Times New Roman', serif" font-size="19" fill="#111">
<text x="25" y="1424" textLength="1220" lengthAdjust="spacingAndGlyphs"><tspan font-weight="bold">Figure 5.</tspan> Mechanistic studies. (a) CV experiments, using glass carbon as the work electrode, Pt plate and Ag/AgCl as the counter and reference</text>
<text x="25" y="1448" textLength="1220" lengthAdjust="spacingAndGlyphs">electrodes, respectively, scan rate: 50 mV/s, <tspan font-style="italic" font-size="12" dy="-6">n</tspan><tspan dy="6">Bu</tspan><tspan font-size="12" dy="4">4</tspan><tspan dy="-4">NClO</tspan><tspan font-size="12" dy="4">4</tspan><tspan dy="-4"> (0.06 M) in MeCN or HFIP as the electrolyte; (b) NMR studies; (c) probing the</tspan></text>
<text x="25" y="1472.5" textLength="521" lengthAdjust="spacingAndGlyphs">involvement of arene radical cations; (d) kinetic experiments.</text>
</g>
</svg>
</body></html>
